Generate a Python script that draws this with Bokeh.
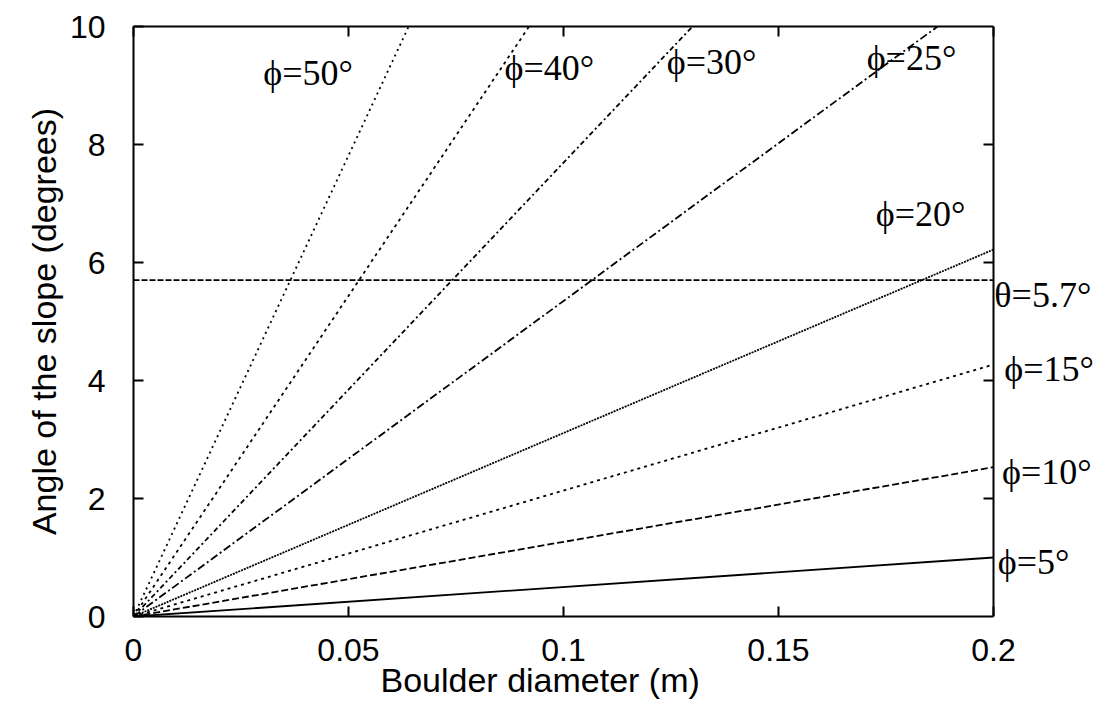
from bokeh.plotting import figure
from bokeh.models import (LinearAxis, FixedTicker, CustomJSTickFormatter, Range1d, Title)
from bokeh.core.properties import value
from bokeh.embed import file_html
from bokeh.resources import INLINE
import math

# ---- data ----
phi_deg = [5, 10, 15, 20, 25, 30, 40, 50]
end_diam = [0.2, 0.2, 0.2, 0.2, 0.187, 0.130, 0.092, 0.064]     # m
end_angle = [1.0, 2.53, 4.27, 6.22, 10.0, 10.0, 10.0, 10.0]      # degrees
line_dash = ["solid", "7 3", "3 4", "2 1", "8 3 2 3", "5 3 2 3", "3 4", "2 4"]

theta_crit = 5.7

x_ticks = [0, 0.05, 0.1, 0.15, 0.2]
y_ticks = [0, 2, 4, 6, 8, 10]

x_title = "Boulder diameter (m)"
y_title = "Angle of the slope (degrees)"

label_text = ["ϕ=50°", "ϕ=40°", "ϕ=30°", "ϕ=25°", "ϕ=20°",
              "θ=5.7°", "ϕ=15°", "ϕ=10°", "ϕ=5°"]
label_x = [0.0302, 0.0863, 0.124, 0.1705, 0.1726, 0.2002, 0.2025, 0.2020, 0.2010]
label_y = [9.22, 9.30, 9.39, 9.47, 6.83, 5.45, 4.2, 2.45, 0.92]

SANS = "Liberation Sans"
SERIF = "Liberation Serif"

# layout: the data box spans 860 px; the canvas extends past it so the
# right-hand labels can be drawn
W, H = 1095, 712
LEFT, TOP, BOTTOM = 133, 26, 96
box_w = 860
frame_w = W - LEFT
x_max, y_max = x_ticks[-1], y_ticks[-1]
x_end = x_max * frame_w / box_w

p = figure(width=W, height=H, x_range=Range1d(0, x_end), y_range=Range1d(0, y_max),
           output_backend="svg", toolbar_location=None,
           min_border_left=LEFT, min_border_right=0, min_border_top=TOP,
           min_border_bottom=BOTTOM)
p.xgrid.visible = False
p.ygrid.visible = False
p.outline_line_color = None
p.background_fill_color = "white"
p.border_fill_color = "white"

# friction-angle lines
for d_end, a_end, dash in zip(end_diam, end_angle, line_dash):
    p.line([0, d_end], [0, a_end], line_color="black", line_width=1.8, line_dash=dash)

# critical slope line
p.line([0, x_max], [theta_crit, theta_crit], line_color="black", line_width=1.8,
       line_dash="6 2")

# right border of the box and its inward ticks
p.line([x_max, x_max], [0, y_max], line_color="black", line_width=2)
p.ray(x=[x_max] * (len(y_ticks) - 2), y=y_ticks[1:-1], length=10, length_units="screen",
      angle=math.pi, line_color="black", line_width=2)

def style_axis(ax, show_labels=True):
    ax.axis_line_color = "black"
    ax.axis_line_width = 2
    ax.major_tick_line_color = "black"
    ax.major_tick_line_width = 2
    ax.major_tick_in = 10
    ax.major_tick_out = 0
    ax.minor_tick_line_color = None
    if show_labels:
        ax.major_label_text_font = SANS
        ax.major_label_text_font_size = "32px"
        ax.major_label_text_color = "black"
        ax.axis_label_text_font = SANS
        ax.axis_label_text_font_size = "34px"
        ax.axis_label_text_font_style = "normal"
        ax.axis_label_text_color = "black"
    else:
        ax.formatter = CustomJSTickFormatter(code="return '';")
        ax.major_label_standoff = 0

fmt = CustomJSTickFormatter(code="return (Math.round(tick*100)/100).toString();")

p.xaxis.ticker = FixedTicker(ticks=x_ticks)
p.xaxis.formatter = fmt
p.xaxis.bounds = (0, x_max)
p.yaxis.ticker = FixedTicker(ticks=y_ticks)
style_axis(p.xaxis[0])
style_axis(p.yaxis[0])
p.yaxis.axis_label = y_title
p.xaxis.major_label_standoff = 22
p.yaxis.major_label_standoff = 28
p.yaxis.axis_label_standoff = 4

# x-axis title centred under the data box (not under the wider canvas)
p.add_layout(Title(text=x_title, align="left", offset=247, text_font=SANS,
                   text_font_size="34px", text_font_style="normal", text_color="black",
                   standoff=-10), "below")

top = LinearAxis(ticker=FixedTicker(ticks=x_ticks), bounds=(0, x_max))
style_axis(top, show_labels=False)
p.add_layout(top, "above")

p.text(x=label_x, y=label_y, text=label_text, text_font=value(SERIF),
       text_font_size="36px", text_align="left", text_baseline="middle",
       text_color="black")

open("out.html", "w").write(file_html(p, INLINE))
